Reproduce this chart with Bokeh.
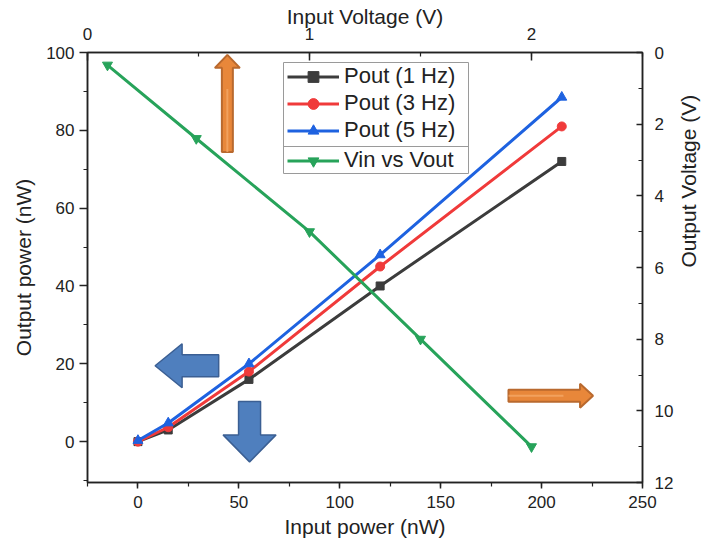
import math
from bokeh.plotting import figure
from bokeh.models import (Range1d, LinearAxis, SingleIntervalTicker, Legend, LegendItem)
from bokeh.embed import file_html
from bokeh.resources import INLINE

# Input power (nW) and output power (nW) at three frequencies
p_in = [0, 15, 55, 120, 210]
pout_1hz = [0, 3, 16, 40, 72]
pout_3hz = [0, 3.7, 18, 45, 81]
pout_5hz = [0.3, 4.8, 20, 48, 88.5]

# Input voltage (V) vs output voltage (V)
v_in = [0.09, 0.49, 1.0, 1.5, 2.0]
v_out = [0.35, 2.4, 5.0, 8.0, 11.0]

FONT = "Liberation Sans"
X0, X1 = -25, 250
Y0, Y1 = -10.5, 100
FW, FH = 555, 430
TOP = 52
BOTTOM = TOP + FH

p = figure(width=702, height=552, frame_width=FW, frame_height=FH,
           x_range=Range1d(X0, X1), y_range=Range1d(Y0, Y1),
           output_backend="svg", toolbar_location=None,
           min_border_left=87, min_border_right=60, min_border_top=TOP, min_border_bottom=70)
p.xgrid.visible = False
p.ygrid.visible = False
p.outline_line_color = "#222222"
p.outline_line_width = 1.5

p.extra_x_ranges = {"vin": Range1d(0, 2.5)}
p.extra_y_ranges = {"vout": Range1d(12, 0)}

def style_axis(ax, tick_out, tick_in, minor_out, minor_in):
    ax.axis_line_color = "#222222"
    ax.axis_line_width = 1.5
    ax.major_tick_line_color = "#222222"
    ax.minor_tick_line_color = "#222222"
    ax.major_tick_line_width = 1.5
    ax.minor_tick_line_width = 1.2
    ax.major_tick_out = tick_out
    ax.major_tick_in = tick_in
    ax.minor_tick_out = minor_out
    ax.minor_tick_in = minor_in
    ax.major_label_text_font = FONT
    ax.major_label_text_font_size = "17px"
    ax.major_label_text_color = "#222222"
    ax.axis_label_text_font = FONT
    ax.axis_label_text_font_size = "21px"
    ax.axis_label_text_font_style = "normal"
    ax.axis_label_text_color = "#222222"

xb = p.xaxis[0]
xb.ticker = SingleIntervalTicker(interval=50, num_minor_ticks=2)
xb.axis_label = "Input power (nW)"
style_axis(xb, 6, 0, 4, 0)
xb.major_label_standoff = 7
xb.axis_label_standoff = 4

yl = p.yaxis[0]
yl.ticker = SingleIntervalTicker(interval=20, num_minor_ticks=2)
yl.axis_label = "Output power (nW)"
style_axis(yl, 8, 0, 4, 0)
yl.major_label_standoff = 5
yl.axis_label_standoff = 8

xt = LinearAxis(x_range_name="vin", axis_label="Input Voltage (V)",
                ticker=SingleIntervalTicker(interval=1, num_minor_ticks=2))
style_axis(xt, 0, 8, 0, 4)
xt.major_label_standoff = 13
xt.axis_label_standoff = -3
p.add_layout(xt, "above")

yr = LinearAxis(y_range_name="vout", axis_label="Output Voltage (V)",
                ticker=SingleIntervalTicker(interval=2, num_minor_ticks=2))
style_axis(yr, 0, 6, 0, 4)
yr.major_label_standoff = 12
yr.axis_label_standoff = 12
yr.axis_label_orientation = math.pi / 2
p.add_layout(yr, "right")

# pixel <-> data helpers for the bottom/left scales
sx = FW / (X1 - X0)
sy = FH / (Y1 - Y0)

def px_to_x(px):
    return (px - 87) / sx + X0

def py_to_y(py):
    return (BOTTOM - py) / sy + Y0

# Block arrows drawn as polygons; widths in screen pixels
def block_arrow(tail, tip, shaft_w, head_w, head_len):
    (x0, y0), (x1, y1) = tail, tip
    px0, py0, px1, py1 = x0 * sx, y0 * sy, x1 * sx, y1 * sy
    dx, dy = px1 - px0, py1 - py0
    L = (dx * dx + dy * dy) ** 0.5
    ux, uy = dx / L, dy / L
    nx, ny = -uy, ux
    bx, by = px1 - ux * head_len, py1 - uy * head_len
    pts = [
        (px0 + nx * shaft_w / 2, py0 + ny * shaft_w / 2),
        (bx + nx * shaft_w / 2, by + ny * shaft_w / 2),
        (bx + nx * head_w / 2, by + ny * head_w / 2),
        (px1, py1),
        (bx - nx * head_w / 2, by - ny * head_w / 2),
        (bx - nx * shaft_w / 2, by - ny * shaft_w / 2),
        (px0 - nx * shaft_w / 2, py0 - ny * shaft_w / 2),
    ]
    return [q[0] / sx for q in pts], [q[1] / sy for q in pts]

orange_arrows = [((44.3, 74.4), (44.3, 99.4), 11, 25, 13),
                 ((183.6, 11.8), (225.5, 11.8), 12, 24, 13)]
blue_arrows = [((40.0, 19.5), (8.5, 19.5), 22, 44, 27),
               ((55.3, 10.3), (55.3, -5.2), 22, 53, 27)]

for spec in orange_arrows:
    ax_, ay_ = block_arrow(*spec)
    p.patch(ax_, ay_, fill_color="#E8873A", line_color="#B9692E", line_width=2)
    (t0, t1) = spec[0], spec[1]
    p.line([t0[0], t1[0] - (t1[0] - t0[0]) * 0.35], [t0[1], t1[1] - (t1[1] - t0[1]) * 0.35],
           line_color="#F4A866", line_width=2, line_alpha=0.8)
for spec in blue_arrows:
    ax_, ay_ = block_arrow(*spec)
    p.patch(ax_, ay_, fill_color="#4F7FBE", line_color="#3B5F93", line_width=1.5)

LW = 3
r1l = p.line(p_in, pout_1hz, line_color="#3C3C3C", line_width=LW)
r1m = p.scatter(p_in, pout_1hz, marker="square", size=8, color="#3C3C3C")
r3l = p.line(p_in, pout_3hz, line_color="#F03A3A", line_width=LW)
r3m = p.scatter(p_in, pout_3hz, marker="circle", size=9, color="#F03A3A")
r5l = p.line(p_in, pout_5hz, line_color="#1E62E0", line_width=LW)
r5m = p.scatter(p_in, pout_5hz, marker="triangle", size=10, color="#1E62E0")
rvl = p.line(v_in, v_out, line_color="#27A35A", line_width=LW,
             x_range_name="vin", y_range_name="vout")
rvm = p.scatter(v_in, v_out, marker="inverted_triangle", size=10, color="#27A35A",
                x_range_name="vin", y_range_name="vout")

# legend frame with a divider between power and voltage series
BOX_L, BOX_R, BOX_T, BOX_B, DIV = 283, 468, 62, 173, 146
p.quad(left=[px_to_x(BOX_L)], right=[px_to_x(BOX_R)], top=[py_to_y(BOX_T)],
       bottom=[py_to_y(BOX_B)], fill_alpha=0, line_color="#9A9A9A", line_width=1)
p.segment(x0=[px_to_x(BOX_L)], y0=[py_to_y(DIV)], x1=[px_to_x(BOX_R)], y1=[py_to_y(DIV)],
          line_color="#9A9A9A", line_width=1)

ROW, PAD = 27, 4

def make_legend(items, first_row_center):
    h = 2 * PAD + len(items) * ROW
    top_px = first_row_center - PAD - ROW / 2
    lg = Legend(items=items, location=(BOX_L - 87, BOTTOM - (top_px + h)))
    lg.label_text_font = FONT
    lg.label_text_font_size = "22px"
    lg.label_text_color = "#222222"
    lg.glyph_width = 52
    lg.glyph_height = ROW
    lg.label_height = ROW
    lg.spacing = 0
    lg.padding = PAD
    lg.margin = 0
    lg.label_standoff = 5
    lg.border_line_alpha = 0
    lg.background_fill_alpha = 0
    return lg

p.add_layout(make_legend([
    LegendItem(label="Pout (1 Hz)", renderers=[r1l, r1m]),
    LegendItem(label="Pout (3 Hz)", renderers=[r3l, r3m]),
    LegendItem(label="Pout (5 Hz)", renderers=[r5l, r5m]),
], 76))
p.add_layout(make_legend([
    LegendItem(label="Vin vs Vout", renderers=[rvl, rvm]),
], 160))

open("out.html", "w").write(file_html(p, INLINE))
